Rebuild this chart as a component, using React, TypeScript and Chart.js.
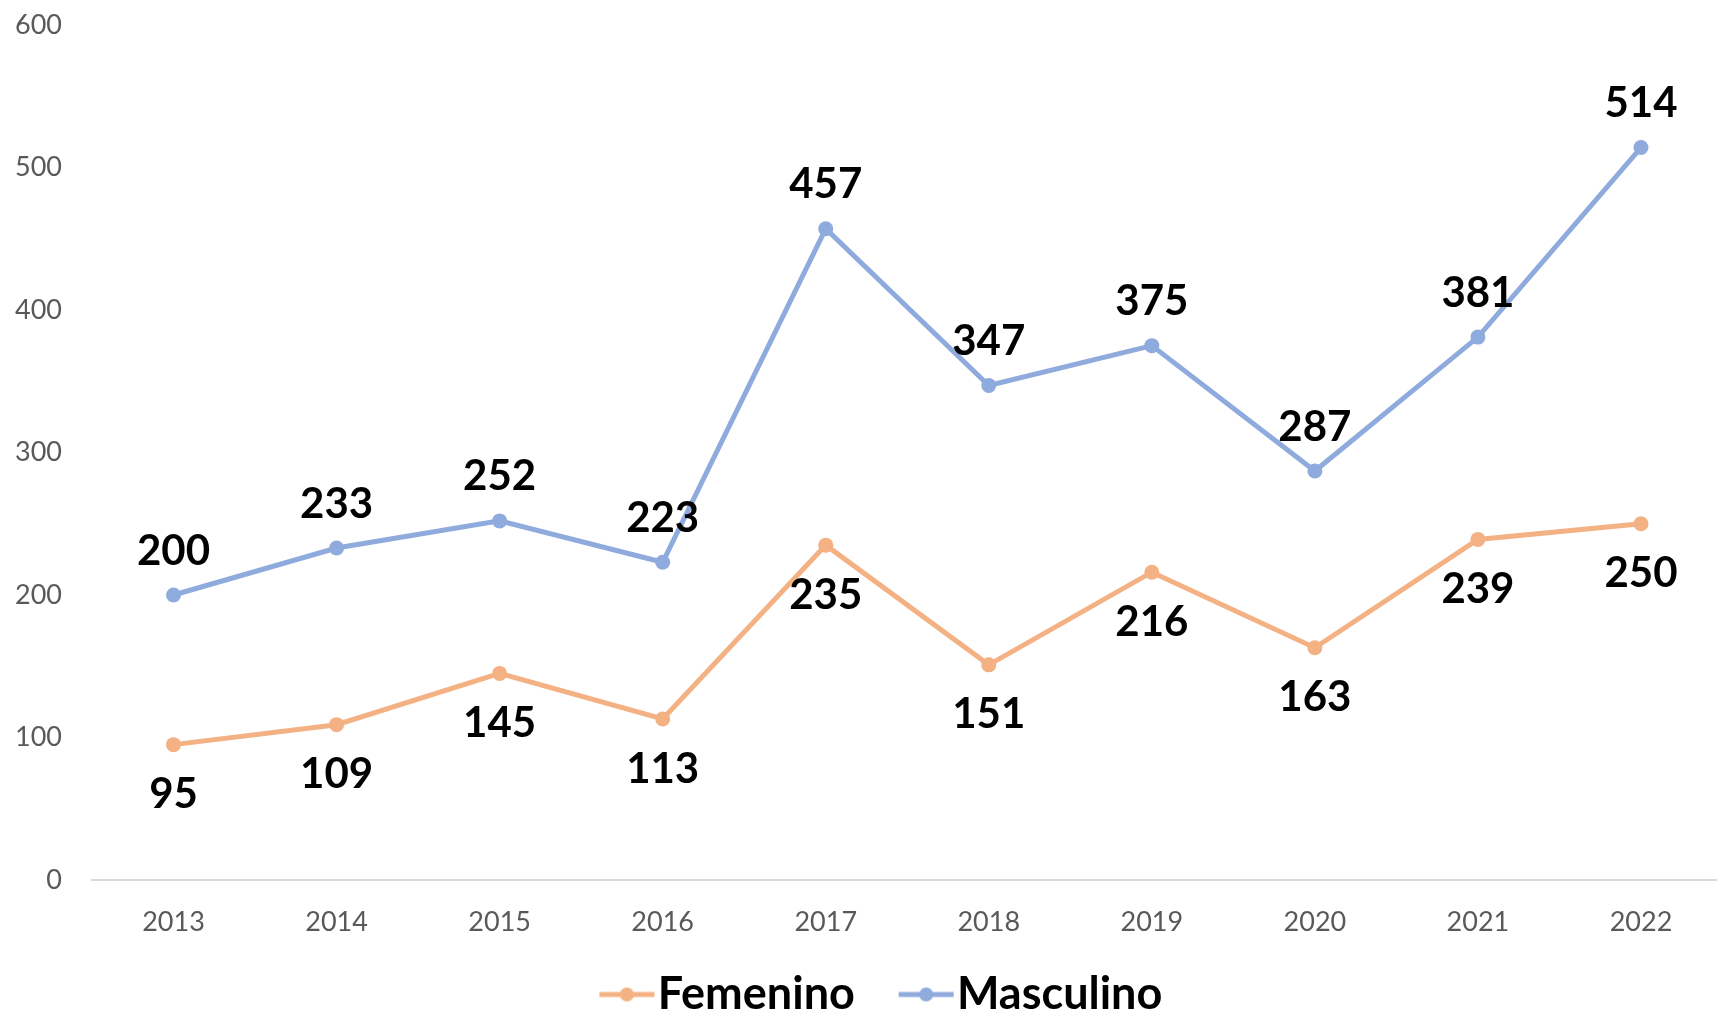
import React, { useEffect, useRef } from "react";
import { Chart, registerables } from "chart.js";

Chart.register(...registerables);

const years = ["2013", "2014", "2015", "2016", "2017", "2018", "2019", "2020", "2021", "2022"];
const femenino = [95, 109, 145, 113, 235, 151, 216, 163, 239, 250];
const masculino = [200, 233, 252, 223, 457, 347, 375, 287, 381, 514];
const yMin = 0;
const yMax = 600;
const yStep = 100;

const FEM_COLOR = "#F4B183";
const MASC_COLOR = "#8FAADC";
const FONT = "Lato, 'Open Sans', sans-serif";

function makeMarker(color: string): HTMLCanvasElement {
  const c = document.createElement("canvas");
  c.width = 110;
  c.height = 18;
  const ctx = c.getContext("2d")!;
  ctx.strokeStyle = color;
  ctx.lineWidth = 5;
  ctx.beginPath();
  ctx.moveTo(53, 9);
  ctx.lineTo(108, 9);
  ctx.stroke();
  ctx.fillStyle = color;
  ctx.beginPath();
  ctx.arc(80.5, 9, 7, 0, Math.PI * 2);
  ctx.fill();
  return c;
}

const valueLabels = {
  id: "valueLabels",
  afterDatasetsDraw(chart: any) {
    const ctx = chart.ctx;
    ctx.save();
    ctx.font = `bold 42px ${FONT}`;
    ctx.fillStyle = "#000000";
    ctx.textAlign = "center";
    ctx.textBaseline = "middle";
    chart.data.datasets.forEach((ds: any, i: number) => {
      const meta = chart.getDatasetMeta(i);
      const off = ds.label === "Masculino" ? -44 : 50;
      meta.data.forEach((pt: any, j: number) => {
        ctx.fillText(String(ds.data[j]), pt.x, pt.y + off);
      });
    });
    ctx.restore();
  },
};

export default function App() {
  const ref = useRef<HTMLCanvasElement | null>(null);

  useEffect(() => {
    if (!ref.current) return;
    const markers = [makeMarker(FEM_COLOR), makeMarker(MASC_COLOR)];
    const chart = new Chart(ref.current, {
      type: "line",
      data: {
        labels: years,
        datasets: [
          {
            label: "Femenino",
            data: femenino,
            borderColor: FEM_COLOR,
            backgroundColor: FEM_COLOR,
            borderWidth: 5,
            pointRadius: 7.5,
            pointBorderWidth: 0,
            pointBackgroundColor: FEM_COLOR,
            tension: 0,
          },
          {
            label: "Masculino",
            data: masculino,
            borderColor: MASC_COLOR,
            backgroundColor: MASC_COLOR,
            borderWidth: 5,
            pointRadius: 7.5,
            pointBorderWidth: 0,
            pointBackgroundColor: MASC_COLOR,
            tension: 0,
          },
        ],
      },
      options: {
        responsive: false,
        animation: false,
        devicePixelRatio: 1,
        layout: { padding: { left: 0, top: 25, right: 0, bottom: 0 } },
        plugins: {
          tooltip: { enabled: false },
          legend: {
            position: "bottom",
            labels: {
              usePointStyle: true,
              pointStyleWidth: 67.5,
              padding: 12,
              color: "#000000",
              font: { family: FONT, size: 45, weight: "bold" },
              generateLabels: (ch: any) => {
                const items = (Chart.defaults.plugins.legend.labels as any).generateLabels(ch);
                return items.map((it: any, idx: number) => ({ ...it, pointStyle: markers[idx] }));
              },
            },
          },
        },
        scales: {
          x: {
            offset: true,
            grid: { display: false, drawTicks: false },
            border: { display: true, color: "#D9D9D9", width: 2 },
            ticks: {
              padding: 26,
              color: "#595959",
              font: { family: FONT, size: 27 },
            },
            afterFit: (s: any) => {
              s.height = 80;
              s.paddingLeft = 0;
              s.paddingRight = 0;
            },
          },
          y: {
            min: yMin,
            max: yMax,
            grid: { display: false, drawTicks: false },
            border: { display: false },
            ticks: {
              stepSize: yStep,
              padding: 30,
              color: "#595959",
              font: { family: FONT, size: 27 },
            },
            afterFit: (s: any) => {
              s.width = 92;
              s.paddingTop = 0;
              s.paddingBottom = 0;
            },
          },
        },
      },
      plugins: [valueLabels],
    });
    return () => chart.destroy();
  }, []);

  return (
    <canvas
      ref={ref}
      width={1730}
      height={1027}
      style={{ position: "fixed", top: 0, left: 0, width: 1730, height: 1027, background: "#ffffff" }}
    />
  );
}
